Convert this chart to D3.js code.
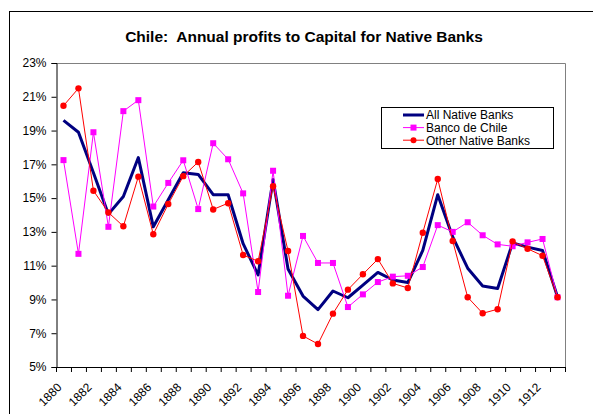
<!DOCTYPE html>
<html>
<head>
<meta charset="utf-8">
<script src="https://cdn.jsdelivr.net/npm/d3@7"></script>
<style>
  html, body { margin: 0; padding: 0; background: #fff; }
  svg { display: block; font-family: "Liberation Sans", Arial, sans-serif; }
</style>
</head>
<body>
<figure id="chart" style="margin:0"></figure>
<script>
// data
const years = d3.range(1880, 1914).map(String);
const allNative = [19.6, 18.9, 16.5, 14.05, 15.1, 17.4, 13.3, 14.9, 16.5, 16.4,
  15.2, 15.2, 12.3, 10.45, 16.1, 10.8, 9.2, 8.4, 9.5, 9.1,
  9.85, 10.6, 10.15, 10.0, 11.9, 15.2, 12.7, 10.85, 9.8, 9.65,
  12.35, 12.1, 11.9, 9.15];
const bancoChile = [17.25, 11.7, 18.9, 13.3, 20.15, 20.8, 14.5, 15.9, 17.24, 14.35,
  18.25, 17.3, 15.28, 9.44, 16.62, 9.22, 12.76, 11.16, 11.16, 8.55,
  9.3, 10.03, 10.35, 10.4, 10.92, 13.4, 13.0, 13.57, 12.8, 12.26,
  12.15, 12.38, 12.58, 9.13];
const otherNative = [20.47, 21.5, 15.44, 14.15, 13.33, 16.27, 12.86, 14.65, 16.3, 17.14,
  14.33, 14.7, 11.63, 11.26, 15.7, 11.87, 6.84, 6.36, 8.16, 9.58,
  10.49, 11.39, 9.95, 9.68, 12.95, 16.13, 12.46, 9.13, 8.18, 8.42,
  12.44, 12.0, 11.59, 9.13];
const xTickLabels = years.filter((d, i) => i % 2 === 0);
const yTicks = [5, 7, 9, 11, 13, 15, 17, 19, 21, 23];
const seriesNames = ["All Native Banks", "Banco de Chile", "Other Native Banks"];

const width = 593, height = 414;
const plot = {left: 56, right: 565, top: 63, bottom: 367};

const svg = d3.select("figure#chart")
  .append("svg")
  .attr("width", width)
  .attr("height", height);

// outer chart border (runs off right and bottom)
svg.append("rect")
  .attr("x", 9.5).attr("y", 11.5)
  .attr("width", 620).attr("height", 420)
  .attr("fill", "none").attr("stroke", "#000").attr("stroke-width", 1);

svg.append("text")
  .attr("x", 304).attr("y", 42)
  .attr("text-anchor", "middle")
  .attr("font-size", "15.5px")
  .attr("font-weight", "bold")
  .style("white-space", "pre")
  .text("Chile:  Annual profits to Capital for Native Banks");

const x = d3.scaleBand()
  .domain(years)
  .range([plot.left, plot.right])
  .padding(0);
const cx = d => x(d) + x.bandwidth() / 2;

const y = d3.scaleLinear()
  .domain([5, 23])
  .range([plot.bottom, plot.top]);

// plot area frame (gray top/right)
svg.append("path")
  .attr("d", `M${plot.left},${plot.top + 0.5}H${plot.right + 0.5}V${plot.bottom}`)
  .attr("fill", "none").attr("stroke", "#808080").attr("stroke-width", 1);

// y axis
const yAxis = svg.append("g")
  .attr("transform", `translate(${plot.left + 0.5},0)`)
  .call(d3.axisLeft(y).tickValues(yTicks).tickSize(5).tickPadding(5)
    .tickFormat(d => d + "%"));
yAxis.select(".domain").attr("stroke", "#000");
yAxis.selectAll("text").attr("font-size", "12px").attr("font-family", null).attr("fill", "#000");

// x axis: ticks between categories
const xg = svg.append("g");
xg.append("line")
  .attr("x1", plot.left).attr("x2", plot.right + 1)
  .attr("y1", plot.bottom + 0.5).attr("y2", plot.bottom + 0.5)
  .attr("stroke", "#000");
xg.selectAll("line.tick")
  .data(years.concat(["end"]))
  .join("line")
  .attr("class", "tick")
  .attr("x1", d => (d === "end" ? plot.right : x(d)) + 0.5)
  .attr("x2", d => (d === "end" ? plot.right : x(d)) + 0.5)
  .attr("y1", plot.bottom).attr("y2", plot.bottom + 5)
  .attr("stroke", "#000");
xg.selectAll("text")
  .data(xTickLabels)
  .join("text")
  .attr("transform", d => `translate(${cx(d) - 1},${plot.bottom + 21})rotate(-45)`)
  .attr("text-anchor", "end")
  .attr("font-size", "12px")
  .text(d => d);

// series
const line = d3.line()
  .x((d, i) => cx(years[i]))
  .y(d => y(d));

svg.append("path")
  .datum(allNative)
  .attr("d", line)
  .attr("fill", "none").attr("stroke", "#000080").attr("stroke-width", 3)
  .attr("stroke-linejoin", "round");

svg.append("path")
  .datum(bancoChile)
  .attr("d", line)
  .attr("fill", "none").attr("stroke", "#ff00ff").attr("stroke-width", 1);
svg.selectAll("rect.banco")
  .data(bancoChile)
  .join("rect")
  .attr("class", "banco")
  .attr("x", (d, i) => cx(years[i]) - 3)
  .attr("y", d => y(d) - 3)
  .attr("width", 6).attr("height", 6)
  .attr("fill", "#ff00ff");

svg.append("path")
  .datum(otherNative)
  .attr("d", line)
  .attr("fill", "none").attr("stroke", "#ff0000").attr("stroke-width", 1);
svg.selectAll("circle.other")
  .data(otherNative)
  .join("circle")
  .attr("class", "other")
  .attr("cx", (d, i) => cx(years[i]))
  .attr("cy", d => y(d))
  .attr("r", 3.2)
  .attr("fill", "#ff0000");

// legend
const legend = svg.append("g");
legend.append("rect")
  .attr("x", 381.5).attr("y", 107.5)
  .attr("width", 172).attr("height", 41)
  .attr("fill", "#fff").attr("stroke", "#000");
const legendColors = ["#000080", "#ff00ff", "#ff0000"];
seriesNames.forEach((name, i) => {
  const ly = 115 + i * 12.6;
  legend.append("line")
    .attr("x1", 403).attr("x2", 424)
    .attr("y1", ly).attr("y2", ly)
    .attr("stroke", legendColors[i])
    .attr("stroke-width", i === 0 ? 3 : 1);
  if (i === 1) {
    legend.append("rect").attr("x", 410.5).attr("y", ly - 3)
      .attr("width", 6).attr("height", 6).attr("fill", legendColors[i]);
  } else if (i === 2) {
    legend.append("circle").attr("cx", 413.5).attr("cy", ly)
      .attr("r", 3).attr("fill", legendColors[i]);
  }
  legend.append("text")
    .attr("x", 426).attr("y", ly + 4.3)
    .attr("font-size", "12px")
    .text(name);
});
</script>
</body>
</html>
